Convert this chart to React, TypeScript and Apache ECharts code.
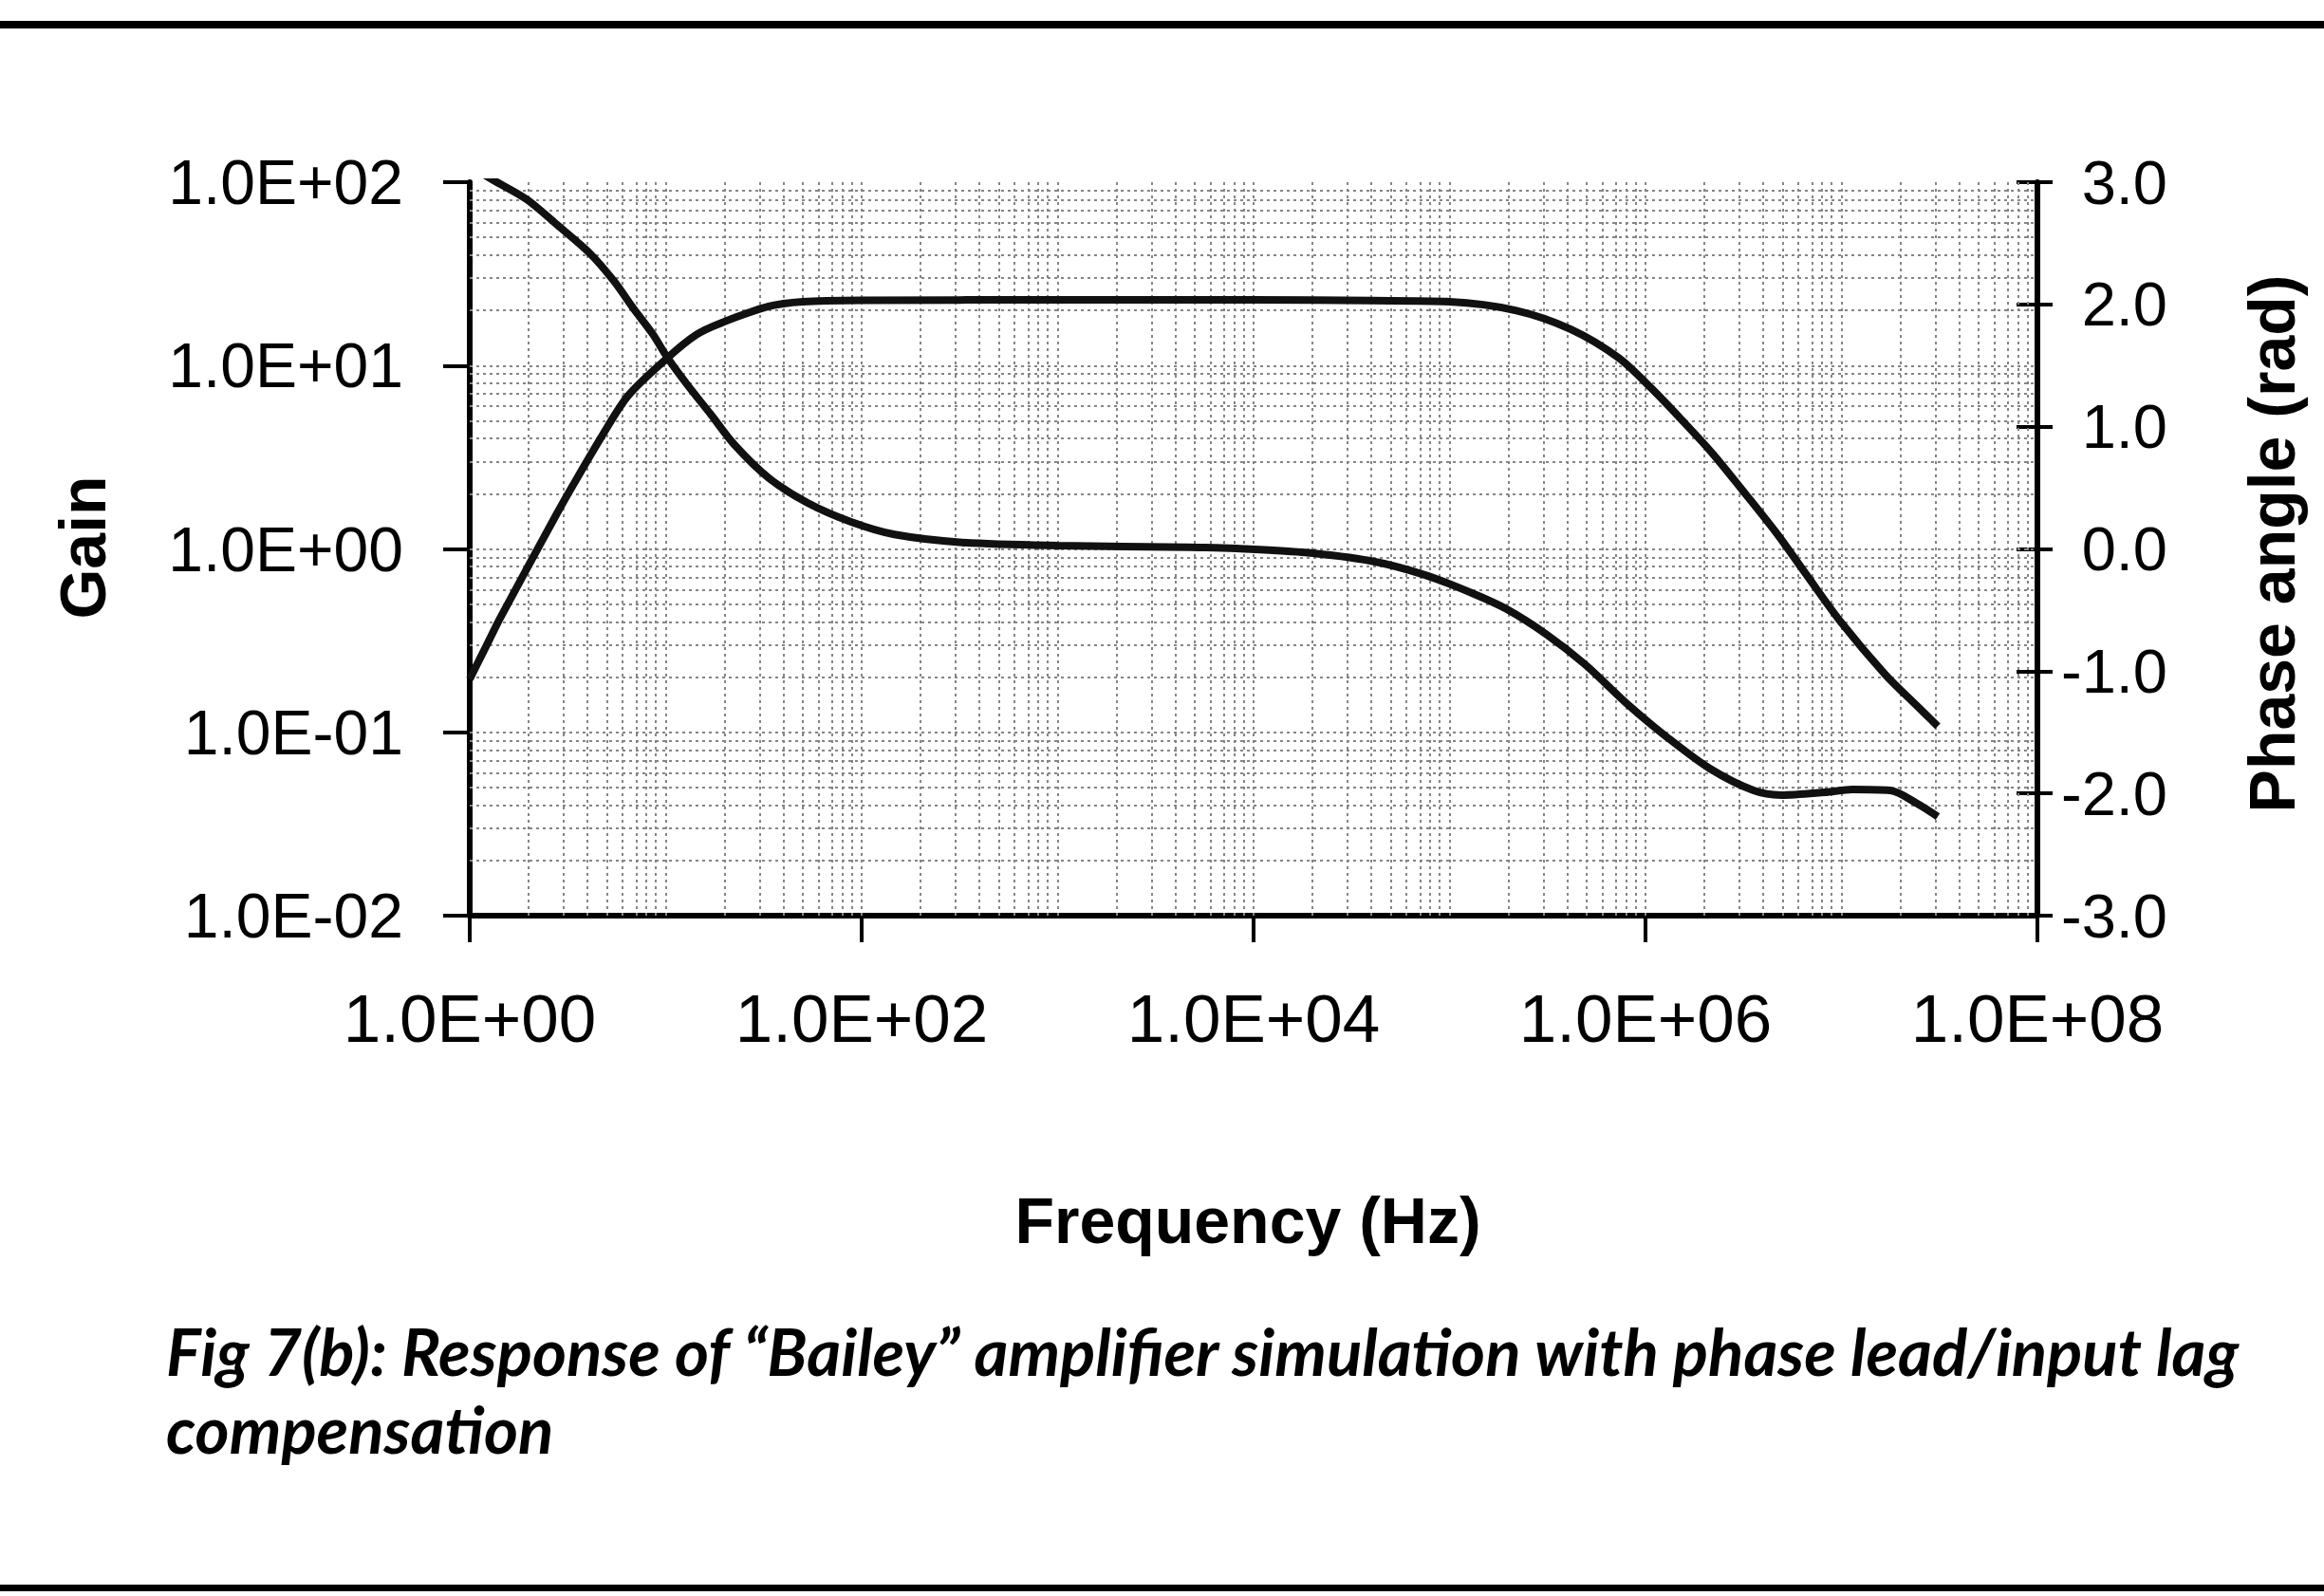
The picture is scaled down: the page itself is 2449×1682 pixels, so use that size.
import React, { useEffect, useRef } from "react";
import * as echarts from "echarts";

// ---- data ----
const gainFreqHz = [1, 1.26, 1.43, 2.73, 3.26, 4.71, 6.44, 10.2, 14.3, 19, 33.5, 50, 100, 1000, 10000, 40000, 100000, 217000, 414000, 731000, 1080000, 1490000, 2180000, 3220000, 4690000, 6520000, 9950000, 16700000, 24500000, 31000000];
const gainValues = [0.195, 0.32, 0.42, 1.5, 2.1, 4.1, 6.86, 11.0, 14.7, 17.0, 21.0, 22.3, 22.7, 22.8, 22.8, 22.6, 22.3, 20.0, 15.8, 11.0, 7.45, 5.21, 3.35, 2.01, 1.21, 0.741, 0.398, 0.207, 0.138, 0.108];

const phaseFreqHz = [1, 1.31, 1.95, 2.75, 4.09, 5.45, 6.82, 8.57, 10.2, 12.8, 17.0, 22.5, 33.6, 53, 88.3, 147, 326, 1000, 4680, 8180, 17700, 39400, 75300, 130000, 196000, 313000, 490000, 818000, 1290000, 2130000, 3560000, 4920000, 8220000, 11400000, 17700000, 24400000, 31000000];
const phaseValues = [3.13, 3.02, 2.86, 2.66, 2.42, 2.19, 1.97, 1.76, 1.566, 1.35, 1.1, 0.85, 0.58, 0.376, 0.221, 0.118, 0.053, 0.027, 0.014, 0.004, -0.027, -0.097, -0.214, -0.361, -0.493, -0.7, -0.943, -1.277, -1.541, -1.797, -1.976, -2.014, -1.991, -1.968, -1.976, -2.084, -2.19];

const xTickLabels = ["1.0E+00", "1.0E+02", "1.0E+04", "1.0E+06", "1.0E+08"];
const gainTickLabels = ["1.0E-02", "1.0E-01", "1.0E+00", "1.0E+01", "1.0E+02"];
const phaseTickLabels = ["-3.0", "-2.0", "-1.0", "0.0", "1.0", "2.0", "3.0"];

const gridMultipliers = [1, 2, 3, 4, 5, 6, 7, 8, 9];
const freqDecades = [0, 1, 2, 3, 4, 5, 6, 7];
const gainDecades = [-2, -1, 0, 1];

const xTitle = "Frequency (Hz)";
const leftTitle = "Gain";
const rightTitle = "Phase angle (rad)";
const captionLine1 = "Fig 7(b): Response of “Bailey” amplifier simulation with phase lead/input lag";
const captionLine2 = "compensation";

const tickFont = "'Liberation Sans', Arial, sans-serif";
const titleFont = "'Liberation Sans', Arial, sans-serif";
const captionFont = "Lato, 'Open Sans', sans-serif";

export default function App() {
  const ref = useRef<HTMLDivElement>(null);

  useEffect(() => {
    document.body.style.margin = "0";
    if (!ref.current) return;
    const chart = echarts.init(ref.current, null, { renderer: "svg" });

    const gainData = gainFreqHz.map((f, i) => [Math.log10(f), gainValues[i]]);
    const phaseData = phaseFreqHz.map((f, i) => [Math.log10(f), phaseValues[i]]);

    const vLines: any[] = [];
    freqDecades.forEach((d) =>
      gridMultipliers.forEach((k) => {
        const v = Math.log10(k * Math.pow(10, d));
        if (v > 0.001) vLines.push({ xAxis: v });
      })
    );
    const hLines: any[] = [];
    gainDecades.forEach((d) =>
      gridMultipliers.forEach((k) => {
        const v = k * Math.pow(10, d);
        if (v > 0.0101) hLines.push({ yAxis: v });
      })
    );

    const gridLineStyle = { color: "#858585", width: 2, type: [3, 4] as any };

    const option: any = {
      animation: false,
      backgroundColor: "#ffffff",
      grid: { left: 495, right: 2449 - 2147, top: 192, bottom: 1682 - 965, containLabel: false, outerBoundsMode: "none" },
      xAxis: {
        type: "value",
        min: 0,
        max: 8,
        interval: 2,
        axisLine: { show: true, onZero: false, lineStyle: { color: "#000", width: 6 } },
        axisTick: { show: true, inside: false, length: 28, lineStyle: { color: "#000", width: 4 } },
        axisLabel: {
          margin: 73,
          color: "#000",
          fontSize: 71,
          fontFamily: tickFont,
          formatter: (v: number) => xTickLabels[Math.round(v / 2)] ?? "",
        },
        splitLine: { show: false },
      },
      yAxis: [
        {
          type: "log",
          logBase: 10,
          min: 0.01,
          max: 100,
          position: "left",
          axisLine: { show: true, lineStyle: { color: "#000", width: 6 } },
          axisTick: { show: true, inside: false, length: 28, lineStyle: { color: "#000", width: 4 } },
          minorTick: { show: false },
          axisLabel: {
            margin: 70,
            color: "#000",
            fontSize: 66,
            fontFamily: tickFont,
            formatter: (v: number) => gainTickLabels[Math.round(Math.log10(v)) + 2] ?? "",
          },
          splitLine: { show: false },
        },
        {
          type: "value",
          min: -3,
          max: 3,
          interval: 1,
          position: "right",
          axisLine: { show: true, lineStyle: { color: "#000", width: 6 } },
          axisTick: { show: true, inside: false, length: 16, lineStyle: { color: "#000", width: 4 } },
          axisLabel: {
            margin: 137,
            align: "right",
            color: "#000",
            fontSize: 65,
            fontFamily: tickFont,
            formatter: (v: number) => phaseTickLabels[Math.round(v) + 3] ?? "",
          },
          splitLine: { show: false },
        },
        {
          type: "value",
          min: -3,
          max: 3,
          interval: 1,
          position: "right",
          axisLine: { show: false },
          axisTick: { show: true, inside: true, length: 22, lineStyle: { color: "#000", width: 4 } },
          axisLabel: { show: false },
          splitLine: { show: false },
        },
      ],
      series: [
        {
          name: "grid",
          type: "line",
          xAxisIndex: 0,
          yAxisIndex: 0,
          data: [[0, 1]],
          showSymbol: false,
          lineStyle: { opacity: 0 },
          silent: true,
          z: 1,
          markLine: {
            silent: true,
            symbol: ["none", "none"],
            label: { show: false },
            lineStyle: gridLineStyle,
            emphasis: { disabled: true },
            data: [...vLines, ...hLines],
          },
        },
        {
          name: "Gain",
          type: "line",
          xAxisIndex: 0,
          yAxisIndex: 0,
          data: gainData,
          smooth: 0.3,
          showSymbol: false,
          clip: true,
          z: 5,
          lineStyle: { color: "#111", width: 8 },
        },
        {
          name: "Phase",
          type: "line",
          xAxisIndex: 0,
          yAxisIndex: 1,
          data: phaseData,
          smooth: 0.3,
          showSymbol: false,
          clip: true,
          z: 5,
          lineStyle: { color: "#111", width: 8 },
        },
      ],
      graphic: [
        { type: "rect", shape: { x: 0, y: 22, width: 2449, height: 8 }, style: { fill: "#000" } },
        { type: "rect", shape: { x: 0, y: 1670, width: 2449, height: 7 }, style: { fill: "#000" } },
        {
          type: "text",
          x: 87,
          y: 577,
          rotation: Math.PI / 2,
          style: { text: leftTitle, fill: "#000", font: `bold 68px ${titleFont}`, align: "center", verticalAlign: "middle" },
        },
        {
          type: "text",
          x: 2394,
          y: 573,
          rotation: Math.PI / 2,
          style: { text: rightTitle, fill: "#000", font: `bold 68px ${titleFont}`, align: "center", verticalAlign: "middle" },
        },
        {
          type: "text",
          x: 1315,
          y: 1286,
          style: { text: xTitle, fill: "#000", font: `bold 68px ${titleFont}`, align: "center", verticalAlign: "middle" },
        },
        {
          type: "text",
          x: 175,
          y: 1423,
          style: { text: captionLine1, fill: "#000", font: `italic bold 69px ${captionFont}`, align: "left", verticalAlign: "middle" },
        },
        {
          type: "text",
          x: 175,
          y: 1505,
          style: { text: captionLine2, fill: "#000", font: `italic bold 69px ${captionFont}`, align: "left", verticalAlign: "middle" },
        },
      ],
    };

    chart.setOption(option);
    return () => chart.dispose();
  }, []);

  return <div ref={ref} style={{ width: 2449, height: 1682, background: "#fff" }} />;
}
